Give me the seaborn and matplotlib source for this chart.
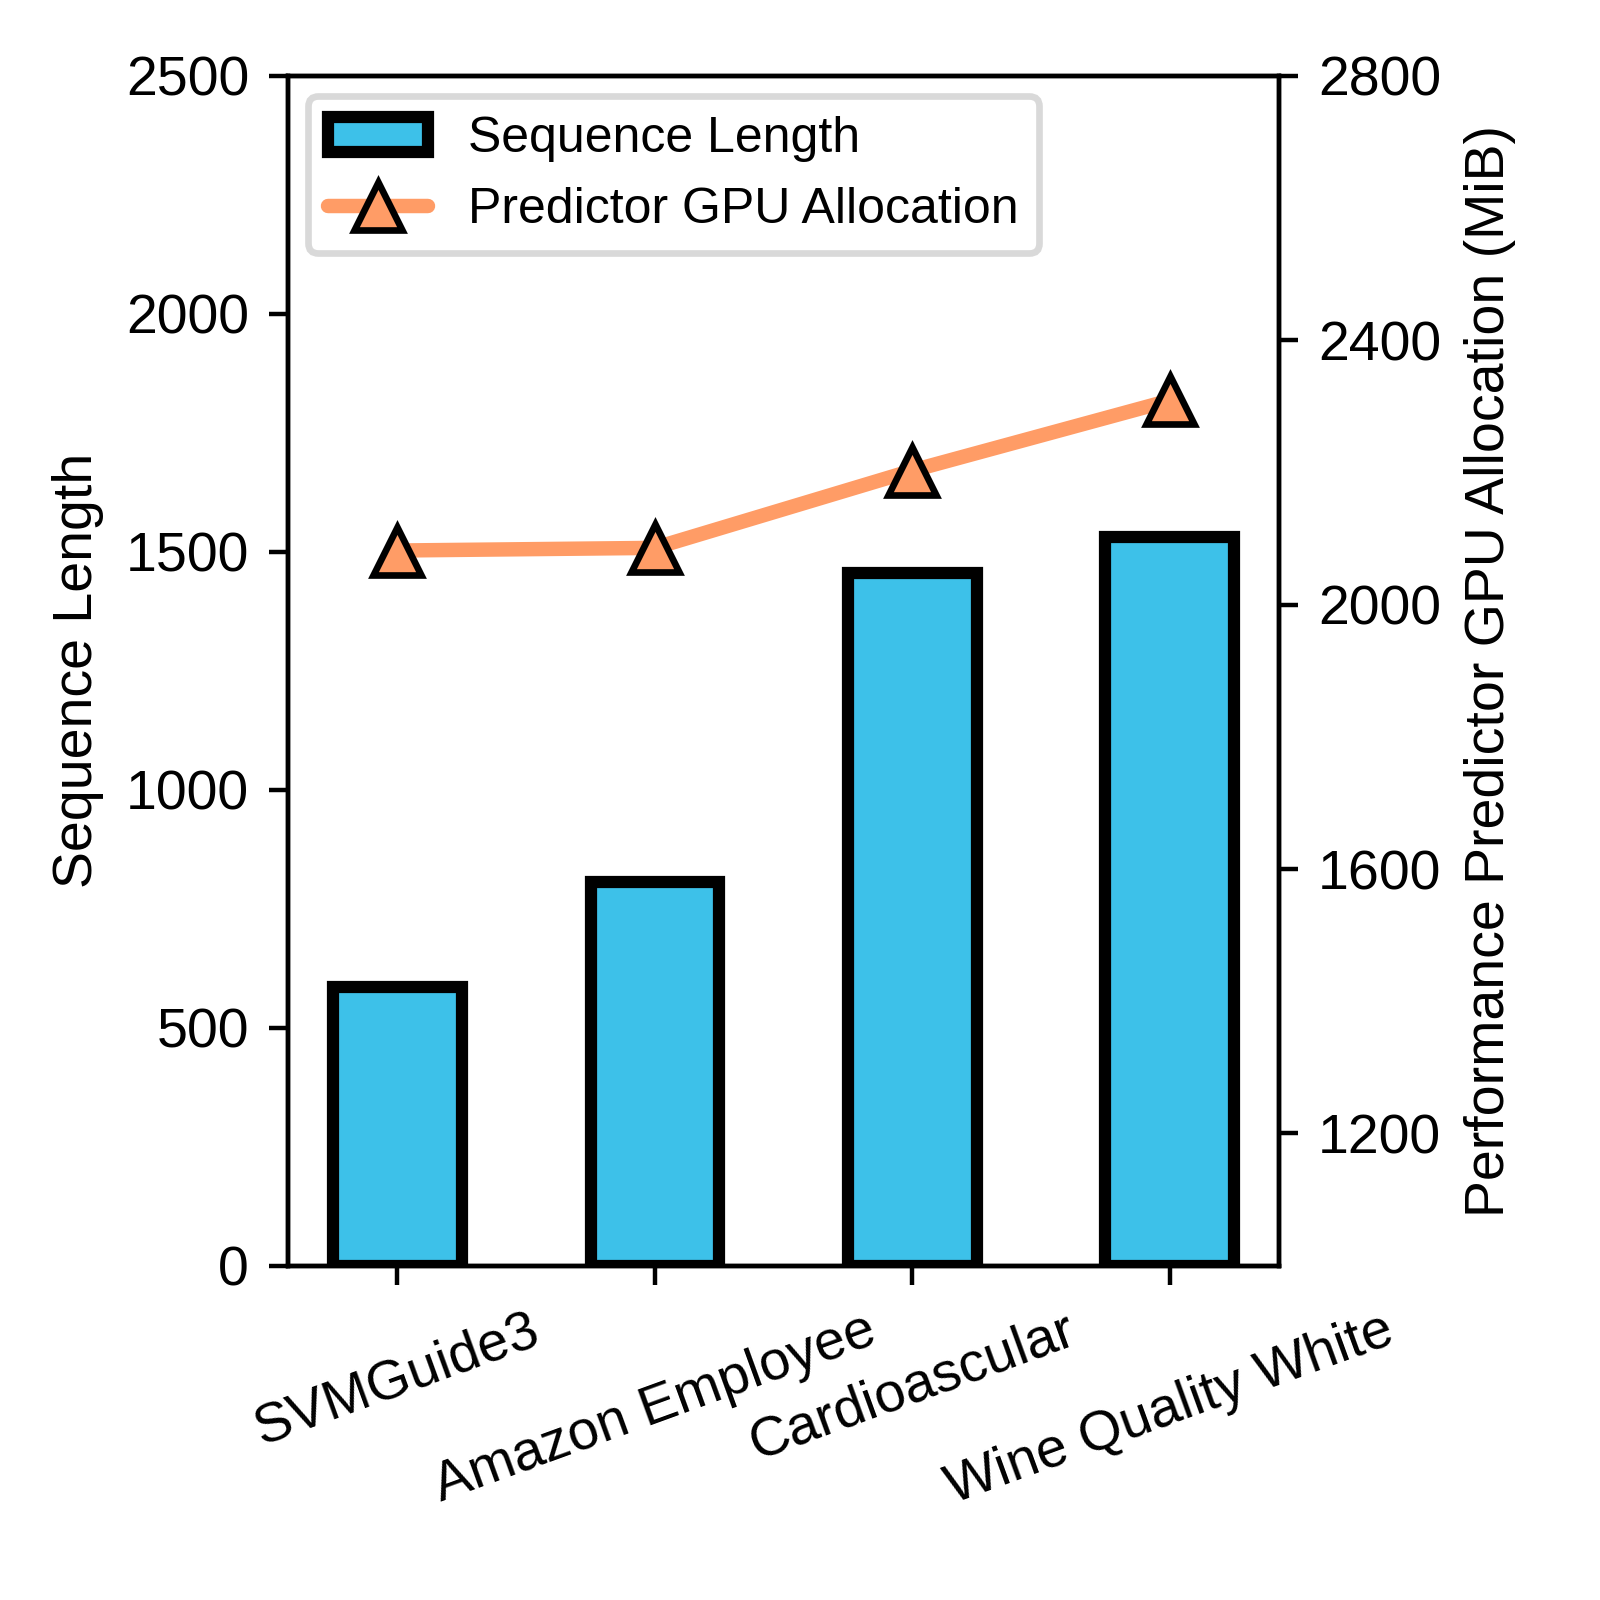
import matplotlib
matplotlib.use("Agg")
import matplotlib.pyplot as plt
import seaborn as sns

# Data
datasets = ['SVMGuide3', 'Amazon Employee', 'Cardioascular', 'Wine Quality White']
seq_length = [585, 807, 1455, 1531]
gpu_alloc = [2082, 2086, 2203, 2309]

bar_color = '#3dc1e9'
line_color = '#ff9c66'

sns.set_style('ticks')
plt.rcParams['font.family'] = ['Liberation Sans', 'DejaVu Sans']
plt.rcParams['font.size'] = 10
plt.rcParams['text.color'] = 'black'
plt.rcParams['axes.labelcolor'] = 'black'
plt.rcParams['xtick.color'] = 'black'
plt.rcParams['ytick.color'] = 'black'

fig, ax = plt.subplots(figsize=(4, 4), dpi=400)
fig.subplots_adjust(left=0.18, right=0.7995, bottom=0.209, top=0.9525)

# Bars: sequence length
sns.barplot(x=datasets, y=seq_length, color=bar_color, edgecolor='black',
            linewidth=2.2, width=0.5, saturation=1, ax=ax,
            label='Sequence Length')
ax.set_ylim(0, 2500)
ax.set_yticks([0, 500, 1000, 1500, 2000, 2500])
ax.set_ylabel('Sequence Length', fontsize=10)
ax.set_xlabel('')
ax.tick_params(axis='x', labelrotation=20, labelsize=10)
ax.tick_params(axis='y', labelsize=10)
for lbl in ax.get_xticklabels():
    lbl.set_ha('center')

# Line: GPU allocation on secondary axis
ax2 = ax.twinx()
sns.lineplot(x=datasets, y=gpu_alloc, color=line_color, linewidth=2.6,
             marker='^', markersize=8.5, markerfacecolor=line_color,
             markeredgecolor='black', markeredgewidth=1.2, ax=ax2,
             label='Predictor GPU Allocation')
ax2.set_ylim(1000, 2800)
ax2.set_yticks([1200, 1600, 2000, 2400, 2800])
ax2.set_ylabel('Performance Predictor GPU Allocation (MiB)', fontsize=10)
ax2.tick_params(axis='y', labelsize=10)

for a in (ax, ax2):
    for s in a.spines.values():
        s.set_visible(True)
        s.set_linewidth(0.8)
        s.set_color('black')
    a.tick_params(width=0.8, length=3.5, color='black')

# Combined legend
h1, l1 = ax.get_legend_handles_labels()
h2, l2 = ax2.get_legend_handles_labels()
if ax.get_legend() is not None:
    ax.get_legend().remove()
leg = ax2.legend(h1 + h2, l1 + l2, loc='upper left', fontsize=9,
                 frameon=True, fancybox=True, framealpha=1,
                 borderaxespad=0.4)
leg.get_frame().set_edgecolor('#d9d9d9')
leg.get_frame().set_linewidth(1.2)

fig.savefig('out.png', dpi=400)
